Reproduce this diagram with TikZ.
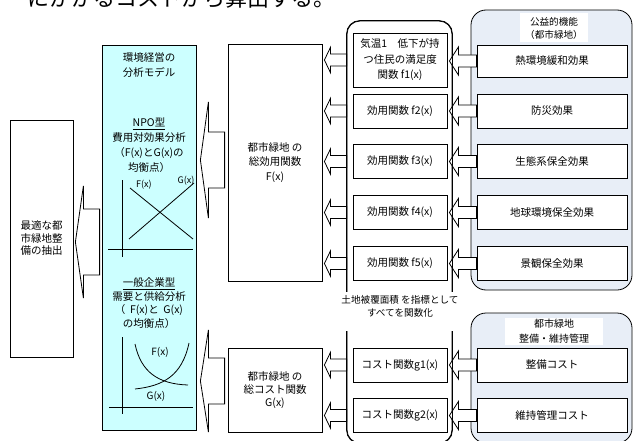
\documentclass[tikz,border=0pt]{standalone}
\usepackage{fontspec}
\setmainfont{Noto Sans CJK JP}
\usetikzlibrary{calc}
\definecolor{cyanfill}{RGB}{204,255,255}
\definecolor{bluefill}{RGB}{232,238,247}
\tikzset{
 box/.style={draw=black, line width=0.8pt, fill=white, inner sep=0pt, align=center, font=\fontsize{10.5}{14}\selectfont},
 rr/.style={draw=black, line width=0.8pt, inner sep=0pt, rounded corners=13pt},
 hollow/.style={draw=black, line width=0.8pt, fill=white, line join=miter},
 lbl/.style={inner sep=0pt, align=center, font=\fontsize{10.5}{15}\selectfont},
 small/.style={inner sep=0pt, align=center, font=\fontsize{9.6}{13}\selectfont},
 chartlbl/.style={inner sep=0pt, font=\fontsize{9}{9}\selectfont},
 axis/.style={line width=0.8pt},
}
% #1 left node anchor, #2 tip gap, #3 right node anchor, #4 end gap, #5 y source, #6 head length, #7 head half, #8 shaft half
\newcommand\harrow[8]{%
  \draw[hollow] let \p1=(#1), \p2=(#3), \p3=(#5) in
   (\x1+#2,\y3) -- (\x1+#2+#6,\y3+#7) -- (\x1+#2+#6,\y3+#8) -- (\x2-#4,\y3+#8)
   -- (\x2-#4,\y3-#8) -- (\x1+#2+#6,\y3-#8) -- (\x1+#2+#6,\y3-#7) -- cycle;}
\begin{document}
\begin{tikzpicture}[x=1pt,y=-1pt]
\useasboundingbox (0,0) rectangle (634,441);
\clip (0,0) rectangle (634,441);

% right rounded panels
\node[rr, fill=bluefill, rounded corners=15pt, minimum width=161pt, minimum height=280pt] (pub) at (551.5,150) {};
\node[rr, fill=bluefill, rounded corners=15pt, minimum width=161pt, minimum height=130pt] (mng) at (551.5,378) {};

% middle rounded column
\node[rr, minimum width=105pt, minimum height=422pt] (mid) at (399.5,232) {};

% right boxes
\node[box, minimum width=150pt, minimum height=32pt] (heat) at (552,61) {熱環境緩和効果};
\node[box, minimum width=150pt, minimum height=34pt] (disaster) at (552,111) {防災効果};
\node[box, minimum width=150pt, minimum height=34pt] (eco) at (552,161.5) {生態系保全効果};
\node[box, minimum width=150pt, minimum height=34pt] (globe) at (552,212.5) {地球環境保全効果};
\node[box, minimum width=150pt, minimum height=34pt] (scene) at (552,263.5) {景観保全効果};
\node[box, minimum width=150pt, minimum height=34pt] (build) at (552,365) {整備コスト};
\node[box, minimum width=150pt, minimum height=34pt] (keep) at (552,415.5) {維持管理コスト};

% middle function boxes
\node[box, minimum width=94pt, minimum height=54pt, font=\fontsize{10.5}{15.5}\selectfont] (f1) at (400,60) {気温1\quad 低下が持\\つ住民の満足度\\関数 f1(x)};
\node[box, minimum width=94pt, minimum height=34pt] (f2) at (400,111) {効用関数 f2(x)};
\node[box, minimum width=94pt, minimum height=34pt] (f3) at (400,161.5) {効用関数 f3(x)};
\node[box, minimum width=94pt, minimum height=34pt] (f4) at (400,212.5) {効用関数 f4(x)};
\node[box, minimum width=94pt, minimum height=34pt] (f5) at (400,263.5) {効用関数 f5(x)};
\node[box, minimum width=94pt, minimum height=34pt] (g1) at (400,365) {コスト関数g1(x)};
\node[box, minimum width=94pt, minimum height=34pt] (g2) at (400,415.5) {コスト関数g2(x)};

% total function boxes
\node[box, minimum width=94pt, minimum height=237pt, font=\fontsize{10.5}{14.5}\selectfont] (F) at (275,162.5) {都市緑地 の\\総効用関数\\F(x)};
\node[box, minimum width=94pt, minimum height=84pt, font=\fontsize{10.5}{13}\selectfont] (G) at (275,390) {都市緑地 の\\総コスト関数\\G(x)};

% model box and result box
\node[box, fill=cyanfill, minimum width=94pt, minimum height=385pt] (model) at (149,237.5) {};
\node[box, minimum width=63pt, minimum height=237pt, font=\fontsize{10.5}{12.5}\selectfont] (opt) at (41.5,238.5) {最適な都\\市緑地整\\備の抽出};

% row coordinates for big arrows
\coordinate (rowF) at (0,160);
\coordinate (rowG) at (0,381);
\coordinate (rowM) at (0,242);

% small arrows: function boxes -> total boxes
\harrow{F.east}{2pt}{mid.west}{0pt}{f1}{6pt}{12.5pt}{6pt}
\harrow{F.east}{2pt}{mid.west}{0pt}{f2}{6pt}{12.5pt}{6pt}
\harrow{F.east}{2pt}{mid.west}{0pt}{f3}{6pt}{12.5pt}{6pt}
\harrow{F.east}{2pt}{mid.west}{0pt}{f4}{6pt}{12.5pt}{6pt}
\harrow{F.east}{2pt}{mid.west}{0pt}{f5}{6pt}{12.5pt}{6pt}
\harrow{G.east}{2pt}{mid.west}{0pt}{g1}{6pt}{12.5pt}{6pt}
\harrow{G.east}{2pt}{mid.west}{0pt}{g2}{6pt}{12.5pt}{6pt}

% small arrows: functions of green -> function boxes
\harrow{mid.east}{-3pt}{heat.west}{0pt}{heat}{9pt}{14pt}{6pt}
\harrow{mid.east}{-3pt}{disaster.west}{0pt}{disaster}{9pt}{14pt}{6pt}
\harrow{mid.east}{-3pt}{eco.west}{0pt}{eco}{9pt}{14pt}{6pt}
\harrow{mid.east}{-3pt}{globe.west}{0pt}{globe}{9pt}{14pt}{6pt}
\harrow{mid.east}{-3pt}{scene.west}{0pt}{scene}{9pt}{14pt}{6pt}
\harrow{mid.east}{-3pt}{build.west}{0pt}{build}{9pt}{14pt}{6pt}
\harrow{mid.east}{-3pt}{keep.west}{0pt}{keep}{9pt}{14pt}{6pt}

% big arrows
\harrow{model.east}{4pt}{F.west}{3pt}{rowF}{8pt}{58pt}{28pt}
\harrow{model.east}{4pt}{G.west}{3pt}{rowG}{8pt}{51pt}{23pt}
\harrow{opt.east}{2pt}{model.west}{2pt}{rowM}{8pt}{56pt}{33pt}

% redraw middle column outline over the arrow heads
\draw[line width=0.8pt, rounded corners=13pt] (mid.north west) rectangle (mid.south east);

% label breaking the middle column
\fill[white] (338,292) rectangle (462,331);
\node[small] (index) at (400,306.5) {土地被覆面積 を指標として\\すべてを関数化};

% panel labels
\node[small, fill=white, minimum width=68pt, minimum height=29pt] (publbl) at (554,28) {公益的機能\\（都市緑地）};
\node[small, fill=white, minimum width=98pt, minimum height=27pt, font=\fontsize{10}{15}\selectfont] (mnglbl) at (554,331) {都市緑地\\整備・維持管理};

% model texts
\node[lbl] (mtitle) at (149,65.5) {環境経営の\\分析モデル};
\node[lbl] (npo) at (149,145.5) {\underline{NPO型}\\費用対効果分析\\（F(x)とG(x)の\\均衡点）};
\node[lbl, font=\fontsize{10.5}{13.5}\selectfont] (firm) at (149,303) {\underline{一般企業型}\\需要と供給分析\\（\ \ F(x)と\ \ G(x)\\の均衡点）};

% chart 1
\draw[axis] (122,180) -- (122,257);
\draw[axis] (108,249) -- (193,249);
\draw[axis] (130,188) -- (193,239);
\draw[axis] (129,239) -- (194,183);
\node[chartlbl] (c1f) at (144,185) {F(x)};
\node[chartlbl] (c1g) at (186,181) {G(x)};

% chart 2
\draw[axis] (122,337) -- (122,414);
\draw[axis] (109,407) -- (193,407);
\draw[axis] (135,344) .. controls (141,372) and (158,384) .. (188,385);
\draw[axis] (135,389) .. controls (163,386) and (182,376) .. (189,343);
\node[chartlbl, font=\fontsize{10}{10}\selectfont] (c2f) at (160,352) {F(x)};
\node[chartlbl, font=\fontsize{10}{10}\selectfont] (c2g) at (156,396) {G(x)};

% title line (cut at the top)
\node[anchor=base west, inner sep=0pt, font=\fontsize{22}{22}\selectfont] (title) at (27,7) {にかかるコストから算出する。};
\end{tikzpicture}
\end{document}
